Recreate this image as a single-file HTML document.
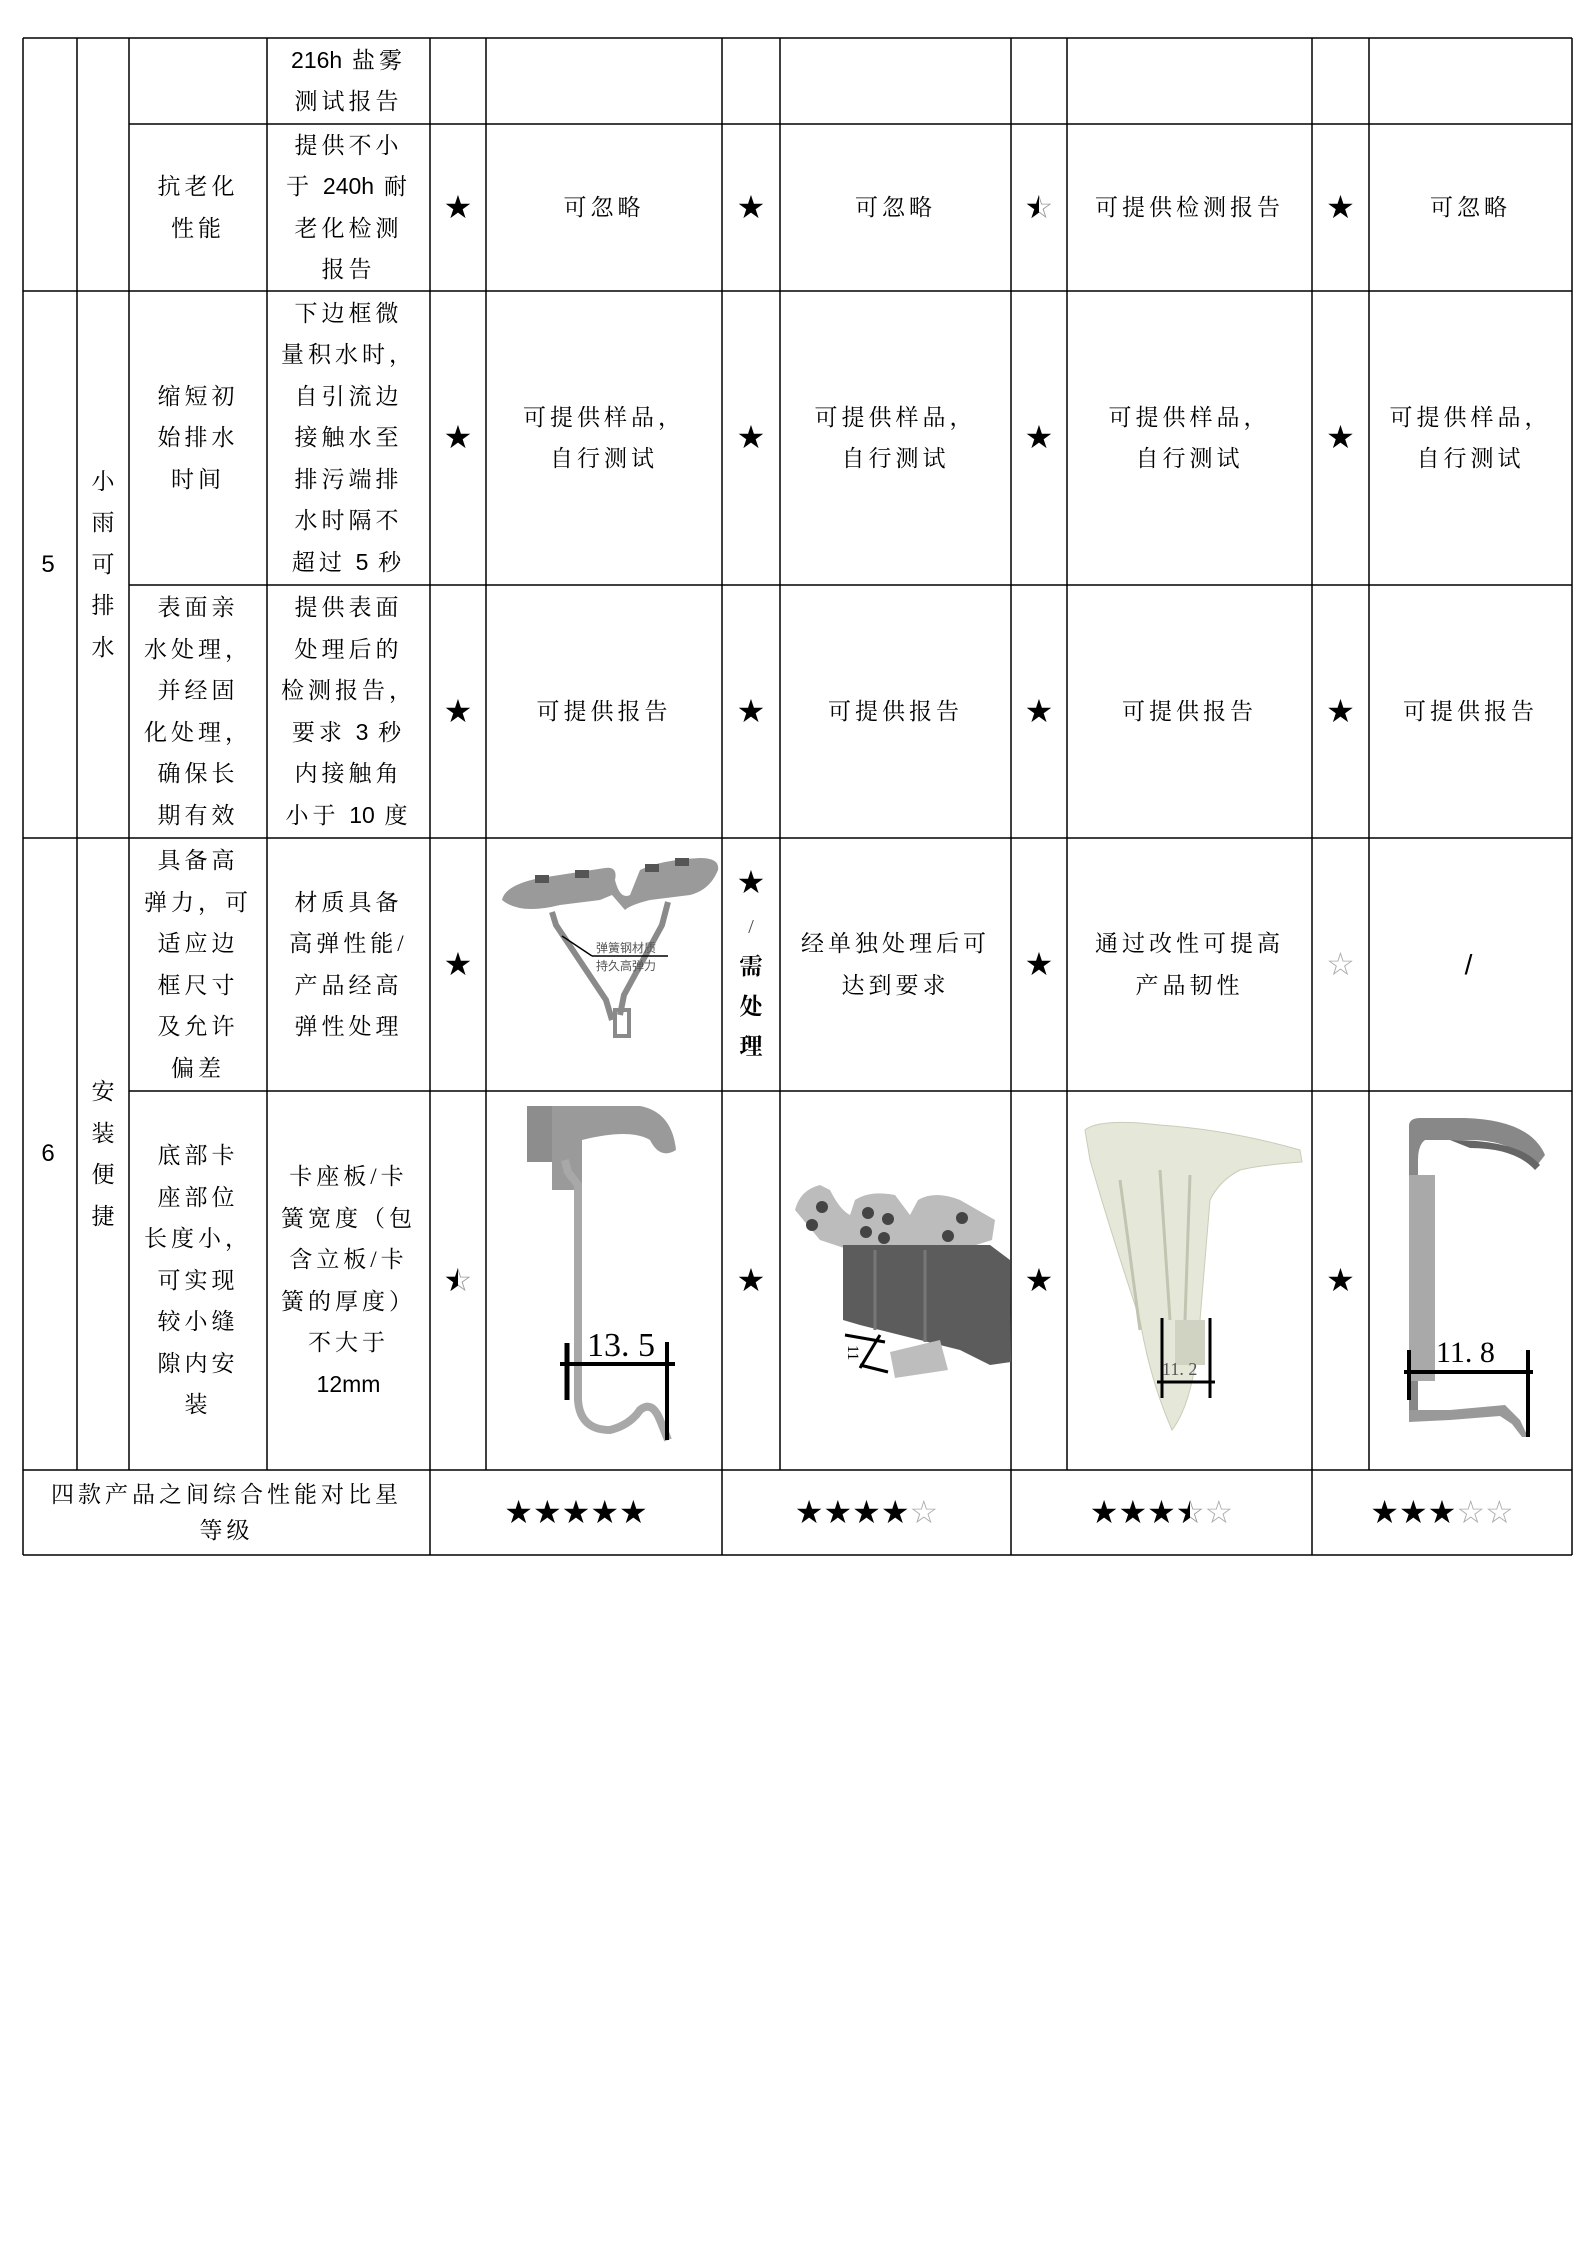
<!DOCTYPE html>
<html><head><meta charset="utf-8"><style>
html,body{margin:0;padding:0;background:#fff;}
body{width:1587px;height:2245px;position:relative;overflow:hidden;font-family:"Liberation Serif","Noto Serif CJK SC",serif;color:#000;}
.c{position:absolute;display:flex;align-items:center;justify-content:center;text-align:center;font-size:23px;line-height:41.5px;letter-spacing:4px;}
.s{font-family:"DejaVu Sans",sans-serif;font-size:32px;letter-spacing:0;}
.n{font-family:"Liberation Sans",sans-serif;font-size:24px;}
.a{font-family:"Liberation Sans",sans-serif;letter-spacing:0;}
.h{display:inline-block;position:relative;}
.h .l{position:absolute;left:0;top:0;width:50%;overflow:hidden;}
.h .r{color:#999;}
</style></head><body>
<svg width="1587" height="2245" style="position:absolute;left:0;top:0" xmlns="http://www.w3.org/2000/svg">
<g stroke="#000" stroke-width="1.5" fill="none">
<line x1="23" y1="38" x2="1572" y2="38"/>
<line x1="129" y1="124" x2="1572" y2="124"/>
<line x1="23" y1="291" x2="1572" y2="291"/>
<line x1="129" y1="585" x2="1572" y2="585"/>
<line x1="23" y1="838" x2="1572" y2="838"/>
<line x1="129" y1="1091" x2="1572" y2="1091"/>
<line x1="23" y1="1470" x2="1572" y2="1470"/>
<line x1="23" y1="1555" x2="1572" y2="1555"/>
<line x1="23" y1="38" x2="23" y2="1555"/>
<line x1="77" y1="38" x2="77" y2="1470"/>
<line x1="129" y1="38" x2="129" y2="1470"/>
<line x1="267" y1="38" x2="267" y2="1470"/>
<line x1="430" y1="38" x2="430" y2="1555"/>
<line x1="486" y1="38" x2="486" y2="1470"/>
<line x1="722" y1="38" x2="722" y2="1555"/>
<line x1="780" y1="38" x2="780" y2="1470"/>
<line x1="1011" y1="38" x2="1011" y2="1555"/>
<line x1="1067" y1="38" x2="1067" y2="1470"/>
<line x1="1312" y1="38" x2="1312" y2="1555"/>
<line x1="1369" y1="38" x2="1369" y2="1470"/>
<line x1="1572" y1="38" x2="1572" y2="1555"/>
</g>
<!-- spring clip row E -->
<g>
<path d="M502 900 Q505 885 540 878 L605 868 Q618 866 615 880 Q620 900 630 895 L640 870 Q660 860 700 858 Q720 858 718 870 Q710 890 690 895 L650 900 Q630 905 625 910 L612 895 L600 900 L560 905 Q520 915 502 900 Z" fill="#9a9a9a"/>
<rect x="535" y="875" width="14" height="8" fill="#555"/><rect x="575" y="870" width="14" height="8" fill="#555"/>
<rect x="645" y="864" width="14" height="8" fill="#555"/><rect x="675" y="858" width="14" height="8" fill="#555"/>
<path d="M552 912 L556 925 L606 1000 L612 1020" stroke="#8a8a8a" stroke-width="6" fill="none"/>
<path d="M668 902 L662 925 L624 995 L620 1015" stroke="#8a8a8a" stroke-width="6" fill="none"/>
<rect x="615" y="1010" width="14" height="26" fill="none" stroke="#8a8a8a" stroke-width="4"/>
<line x1="562" y1="936" x2="592" y2="956" stroke="#000" stroke-width="1.5"/>
<line x1="592" y1="956" x2="668" y2="956" stroke="#000" stroke-width="1.5"/>
<text x="596" y="952" font-size="12" fill="#555" font-family="Noto Sans CJK SC,sans-serif">弹簧钢材质</text>
<text x="596" y="970" font-size="12" fill="#555" font-family="Noto Sans CJK SC,sans-serif">持久高弹力</text>
</g>
<!-- row F col5 -->
<g>
<rect x="527" y="1106" width="25" height="56" fill="#8d8d8d"/>
<path d="M552 1106 L640 1106 Q672 1112 676 1150 Q660 1160 650 1140 Q630 1128 582 1140 L582 1190 L552 1190 Z" fill="#9a9a9a"/>
<path d="M565 1160 L568 1172 L578 1185 L578 1400 Q580 1430 610 1430 Q630 1425 640 1410 Q652 1400 660 1420 L668 1440" stroke="#a8a8a8" stroke-width="8" fill="none"/>
<line x1="567" y1="1343" x2="567" y2="1400" stroke="#000" stroke-width="5"/>
<line x1="667" y1="1342" x2="667" y2="1440" stroke="#000" stroke-width="4"/>
<line x1="560" y1="1364" x2="675" y2="1364" stroke="#000" stroke-width="4"/>
<text x="587" y="1356" font-size="34" font-family="Liberation Serif,serif">13. 5</text>
</g>
<!-- row F col7 -->
<g>
<path d="M795 1210 Q800 1190 820 1185 L830 1190 Q840 1210 850 1215 L855 1200 Q870 1190 895 1195 L910 1215 L918 1200 Q935 1190 960 1200 L995 1220 L992 1240 L960 1250 L930 1245 L890 1255 L850 1250 L820 1240 Z" fill="#bcbcbc"/>
<circle cx="822" cy="1207" r="6" fill="#444"/><circle cx="812" cy="1225" r="6" fill="#444"/>
<circle cx="868" cy="1213" r="6" fill="#444"/><circle cx="888" cy="1219" r="6" fill="#444"/><circle cx="866" cy="1232" r="6" fill="#444"/><circle cx="884" cy="1238" r="6" fill="#444"/>
<circle cx="962" cy="1218" r="6" fill="#444"/><circle cx="948" cy="1236" r="6" fill="#444"/>
<path d="M843 1245 L990 1245 L1010 1260 L1011 1362 L990 1365 L960 1350 L860 1325 L843 1320 Z" fill="#5c5c5c"/>
<line x1="875" y1="1250" x2="875" y2="1330" stroke="#777" stroke-width="3"/>
<line x1="925" y1="1250" x2="925" y2="1342" stroke="#777" stroke-width="3"/>
<path d="M890 1352 L940 1340 L948 1370 L895 1378 Z" fill="#bdbdbd"/>
<line x1="845" y1="1335" x2="885" y2="1342" stroke="#000" stroke-width="3"/>
<line x1="860" y1="1365" x2="888" y2="1372" stroke="#000" stroke-width="3"/>
<line x1="880" y1="1335" x2="860" y2="1368" stroke="#000" stroke-width="3"/>
<text x="845" y="1352" font-size="16" transform="rotate(90 850 1350)">11</text>
</g>
<!-- row F col9 -->
<g>
<path d="M1085 1130 Q1100 1118 1160 1125 Q1230 1130 1300 1150 L1302 1162 Q1260 1165 1240 1170 Q1220 1180 1210 1200 L1200 1320 Q1195 1400 1172 1430 Q1150 1380 1140 1320 Q1110 1230 1090 1160 Z" fill="#e5e8d8" stroke="#c8ccb8"/>
<path d="M1120 1180 L1140 1330 M1160 1170 L1170 1320 M1190 1175 L1185 1320" stroke="#c0c4b0" stroke-width="3"/>
<rect x="1175" y="1320" width="30" height="45" fill="#d0d3c2"/>
<line x1="1162" y1="1318" x2="1162" y2="1398" stroke="#000" stroke-width="3"/>
<line x1="1210" y1="1318" x2="1210" y2="1398" stroke="#000" stroke-width="3"/>
<line x1="1157" y1="1382" x2="1215" y2="1382" stroke="#000" stroke-width="3"/>
<text x="1162" y="1375" font-size="18" fill="#555" font-family="Liberation Serif,serif">11. 2</text>
</g>
<!-- row F col11 -->
<g>
<path d="M1409 1125 Q1410 1118 1420 1118 L1465 1118 Q1530 1120 1545 1155 L1535 1168 Q1515 1140 1470 1140 L1425 1140 Q1418 1145 1418 1160 L1418 1418 L1409 1418 Z" fill="#888"/>
<path d="M1450 1140 Q1520 1140 1540 1165 L1535 1170 Q1515 1148 1470 1148 Z" fill="#666"/>
<rect x="1409" y="1175" width="26" height="206" fill="#a9a9a9"/>
<path d="M1409 1410 L1450 1410 L1505 1405 L1520 1420 L1528 1437 L1522 1437 L1512 1424 L1500 1416 L1450 1420 L1409 1422 Z" fill="#999"/>
<line x1="1409" y1="1350" x2="1409" y2="1400" stroke="#000" stroke-width="4"/>
<line x1="1528" y1="1350" x2="1528" y2="1437" stroke="#000" stroke-width="4"/>
<line x1="1404" y1="1372" x2="1533" y2="1372" stroke="#000" stroke-width="4"/>
<text x="1436" y="1362" font-size="30" font-family="Liberation Serif,serif">11. 8</text>
</g>
</svg>

<!-- Row A -->
<div class="c" style="left:267px;top:38px;width:163px;height:86px"><span><span class="a">216h</span> 盐雾<br>测试报告</span></div>
<!-- Row B -->
<div class="c" style="left:129px;top:124px;width:138px;height:167px"><span>抗老化<br>性能</span></div>
<div class="c" style="left:267px;top:124px;width:163px;height:167px"><span>提供不小<br>于 <span class="a">240h</span> 耐<br>老化检测<br>报告</span></div>
<div class="c s" style="left:430px;top:124px;width:56px;height:167px">★</div>
<div class="c" style="left:486px;top:124px;width:236px;height:167px">可忽略</div>
<div class="c s" style="left:722px;top:124px;width:58px;height:167px">★</div>
<div class="c" style="left:780px;top:124px;width:231px;height:167px">可忽略</div>
<div class="c s" style="left:1011px;top:124px;width:56px;height:167px"><span class="h"><span class="r">☆</span><span class="l">★</span></span></div>
<div class="c" style="left:1067px;top:124px;width:245px;height:167px">可提供检测报告</div>
<div class="c s" style="left:1312px;top:124px;width:57px;height:167px">★</div>
<div class="c" style="left:1369px;top:124px;width:203px;height:167px">可忽略</div>

<!-- Row 5 -->
<div class="c n" style="left:23px;top:291px;width:54px;height:547px">5</div>
<div class="c" style="left:77px;top:291px;width:52px;height:547px;letter-spacing:0"><span>小<br>雨<br>可<br>排<br>水</span></div>
<div class="c" style="left:129px;top:291px;width:138px;height:294px"><span>缩短初<br>始排水<br>时间</span></div>
<div class="c" style="left:267px;top:291px;width:163px;height:294px"><span>下边框微<br>量积水时，<br>自引流边<br>接触水至<br>排污端排<br>水时隔不<br>超过 <span class="a">5</span> 秒</span></div>
<div class="c s" style="left:430px;top:291px;width:56px;height:294px">★</div>
<div class="c" style="left:486px;top:291px;width:236px;height:294px"><span>可提供样品，<br>自行测试</span></div>
<div class="c s" style="left:722px;top:291px;width:58px;height:294px">★</div>
<div class="c" style="left:780px;top:291px;width:231px;height:294px"><span>可提供样品，<br>自行测试</span></div>
<div class="c s" style="left:1011px;top:291px;width:56px;height:294px">★</div>
<div class="c" style="left:1067px;top:291px;width:245px;height:294px"><span>可提供样品，<br>自行测试</span></div>
<div class="c s" style="left:1312px;top:291px;width:57px;height:294px">★</div>
<div class="c" style="left:1369px;top:291px;width:203px;height:294px"><span>可提供样品，<br>自行测试</span></div>

<div class="c" style="left:129px;top:585px;width:138px;height:253px"><span>表面亲<br>水处理，<br>并经固<br>化处理，<br>确保长<br>期有效</span></div>
<div class="c" style="left:267px;top:585px;width:163px;height:253px"><span>提供表面<br>处理后的<br>检测报告，<br>要求 <span class="a">3</span> 秒<br>内接触角<br>小于 <span class="a">10</span> 度</span></div>
<div class="c s" style="left:430px;top:585px;width:56px;height:253px">★</div>
<div class="c" style="left:486px;top:585px;width:236px;height:253px">可提供报告</div>
<div class="c s" style="left:722px;top:585px;width:58px;height:253px">★</div>
<div class="c" style="left:780px;top:585px;width:231px;height:253px">可提供报告</div>
<div class="c s" style="left:1011px;top:585px;width:56px;height:253px">★</div>
<div class="c" style="left:1067px;top:585px;width:245px;height:253px">可提供报告</div>
<div class="c s" style="left:1312px;top:585px;width:57px;height:253px">★</div>
<div class="c" style="left:1369px;top:585px;width:203px;height:253px">可提供报告</div>

<!-- Row 6 -->
<div class="c n" style="left:23px;top:838px;width:54px;height:632px">6</div>
<div class="c" style="left:77px;top:838px;width:52px;height:632px;letter-spacing:0"><span>安<br>装<br>便<br>捷</span></div>
<div class="c" style="left:129px;top:838px;width:138px;height:253px"><span>具备高<br>弹力，可<br>适应边<br>框尺寸<br>及允许<br>偏差</span></div>
<div class="c" style="left:267px;top:838px;width:163px;height:253px"><span>材质具备<br>高弹性能/<br>产品经高<br>弹性处理</span></div>
<div class="c s" style="left:430px;top:838px;width:56px;height:253px">★</div>
<div class="c" style="left:722px;top:838px;width:58px;height:253px;letter-spacing:0;line-height:40px"><span><span style="font-family:'DejaVu Sans';font-size:32px">★</span><br><span style="font-size:20px;color:#444">/</span><br><b>需</b><br><b>处</b><br><b>理</b></span></div>
<div class="c" style="left:780px;top:838px;width:231px;height:253px"><span>经单独处理后可<br>达到要求</span></div>
<div class="c s" style="left:1011px;top:838px;width:56px;height:253px">★</div>
<div class="c" style="left:1067px;top:838px;width:245px;height:253px"><span>通过改性可提高<br>产品韧性</span></div>
<div class="c s" style="left:1312px;top:838px;width:57px;height:253px;color:#aaa">☆</div>
<div class="c" style="left:1369px;top:838px;width:203px;height:253px;font-family:'Liberation Sans',sans-serif;font-size:28px">/</div>

<div class="c" style="left:129px;top:1091px;width:138px;height:379px"><span>底部卡<br>座部位<br>长度小，<br>可实现<br>较小缝<br>隙内安<br>装</span></div>
<div class="c" style="left:267px;top:1091px;width:163px;height:379px"><span>卡座板/卡<br>簧宽度（包<br>含立板/卡<br>簧的厚度）<br>不大于<br><span class="a">12mm</span></span></div>
<div class="c s" style="left:430px;top:1091px;width:56px;height:379px"><span class="h"><span class="r">☆</span><span class="l">★</span></span></div>
<div class="c s" style="left:722px;top:1091px;width:58px;height:379px">★</div>
<div class="c s" style="left:1011px;top:1091px;width:56px;height:379px">★</div>
<div class="c s" style="left:1312px;top:1091px;width:57px;height:379px">★</div>

<!-- Summary -->
<div class="c" style="left:23px;top:1470px;width:407px;height:85px;line-height:36px"><span>四款产品之间综合性能对比星<br>等级</span></div>
<div class="c s" style="left:430px;top:1470px;width:292px;height:85px">★★★★★</div>
<div class="c s" style="left:722px;top:1470px;width:289px;height:85px"><span>★★★★<span style="color:#aaa">☆</span></span></div>
<div class="c s" style="left:1011px;top:1470px;width:301px;height:85px"><span>★★★<span class="h"><span class="r">☆</span><span class="l">★</span></span><span style="color:#aaa">☆</span></span></div>
<div class="c s" style="left:1312px;top:1470px;width:260px;height:85px"><span>★★★<span style="color:#aaa">☆☆</span></span></div>
</body></html>
